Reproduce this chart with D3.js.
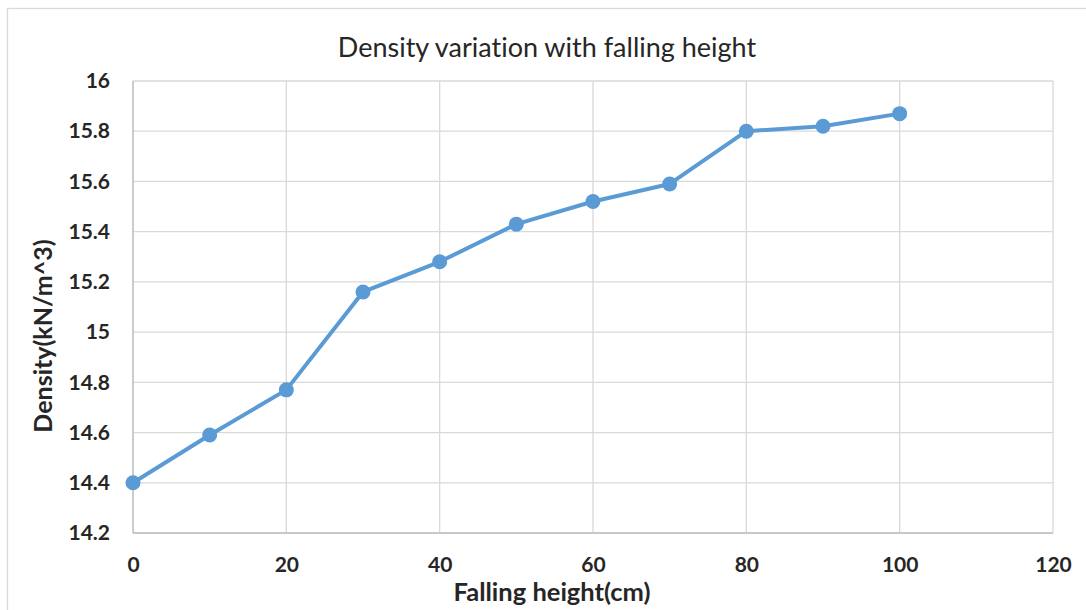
<!DOCTYPE html>
<html>
<head>
<meta charset="utf-8">
<script src="https://cdn.jsdelivr.net/npm/d3@7"></script>
<style>
  html, body { margin: 0; padding: 0; background: #fff; }
  svg { display: block; }
  text { font-family: Lato, "Open Sans", sans-serif; font-variant-ligatures: none; font-feature-settings: "liga" 0, "dlig" 0; }
</style>
</head>
<body>
<svg id="chart" width="1086" height="610"></svg>
<script>
// Falling height (cm) and measured density (kN/m^3)
const heights = [0, 10, 20, 30, 40, 50, 60, 70, 80, 90, 100];
const densities = [14.40, 14.59, 14.77, 15.16, 15.28, 15.43, 15.52, 15.59, 15.80, 15.82, 15.87];
const xTicks = [0, 20, 40, 60, 80, 100, 120];
const yTicks = [14.2, 14.4, 14.6, 14.8, 15, 15.2, 15.4, 15.6, 15.8, 16];

const svg = d3.select("#chart");
const W = 1086, H = 610;
const plot = { left: 133, right: 1053, top: 81, bottom: 533 };

// Chart frame
svg.append("rect")
  .attr("x", 7.5).attr("y", 8.5)
  .attr("width", W + 20).attr("height", H + 20)
  .attr("fill", "#fff").attr("stroke", "#d9d9d9").attr("stroke-width", 1.3);

const x = d3.scaleLinear().domain([0, 120]).range([plot.left, plot.right]);
const y = d3.scaleLinear().domain([14.2, 16]).range([plot.bottom, plot.top]);

// Gridlines
const grid = svg.append("g").attr("stroke", "#d9d9d9").attr("stroke-width", 1.3);
grid.selectAll("line.h").data(yTicks).join("line")
  .attr("class", "h")
  .attr("x1", plot.left).attr("x2", plot.right)
  .attr("y1", d => y(d)).attr("y2", d => y(d));
grid.selectAll("line.v").data(xTicks).join("line")
  .attr("class", "v")
  .attr("x1", d => x(d)).attr("x2", d => x(d))
  .attr("y1", plot.top).attr("y2", plot.bottom);

// Axes (labels only, lines come from the grid)
const xAxis = svg.append("g")
  .attr("transform", `translate(0,${plot.bottom})`)
  .call(d3.axisBottom(x).tickValues(xTicks).tickSize(0).tickPadding(24).tickFormat(d3.format("d")));
const yAxis = svg.append("g")
  .attr("transform", `translate(${plot.left},0)`)
  .call(d3.axisLeft(y).tickValues(yTicks).tickSize(0).tickPadding(23).tickFormat(d => String(+d.toFixed(1))));
[xAxis, yAxis].forEach(a => {
  a.select(".domain").remove();
  a.selectAll("text")
    .attr("fill", "#262626")
    .style("font-size", "21px")
    .style("font-weight", "bold")
    .style("font-family", "Lato, 'Open Sans', sans-serif");
});

// Left and bottom axis lines
svg.append("line").attr("x1", plot.left).attr("x2", plot.left)
  .attr("y1", plot.top).attr("y2", plot.bottom)
  .attr("stroke", "#bfbfbf").attr("stroke-width", 1.3);
svg.append("line").attr("x1", plot.left).attr("x2", plot.right)
  .attr("y1", plot.bottom).attr("y2", plot.bottom)
  .attr("stroke", "#bfbfbf").attr("stroke-width", 1.3);

// Series line and markers
const line = d3.line().x((d, i) => x(heights[i])).y(d => y(d));
svg.append("path")
  .datum(densities)
  .attr("d", line)
  .attr("fill", "none")
  .attr("stroke", "#5b9bd5")
  .attr("stroke-width", 4)
  .attr("stroke-linejoin", "round");
svg.selectAll("circle.pt").data(densities).join("circle")
  .attr("class", "pt")
  .attr("cx", (d, i) => x(heights[i]))
  .attr("cy", d => y(d))
  .attr("r", 7.5)
  .attr("fill", "#5b9bd5");

// Titles
svg.append("text")
  .attr("x", 547).attr("y", 57)
  .attr("text-anchor", "middle")
  .attr("fill", "#262626")
  .style("font-size", "27px")
  .text("Density variation with falling height");

svg.append("text")
  .attr("x", 552).attr("y", 601)
  .attr("text-anchor", "middle")
  .attr("fill", "#262626")
  .style("font-size", "25.5px")
  .style("font-weight", "bold")
  .text("Falling height(cm)");

svg.append("text")
  .attr("transform", "translate(52,336) rotate(-90)")
  .attr("text-anchor", "middle")
  .attr("fill", "#262626")
  .style("font-size", "25px")
  .style("font-weight", "bold")
  .text("Density(kN/m^3)");
</script>
</body>
</html>
